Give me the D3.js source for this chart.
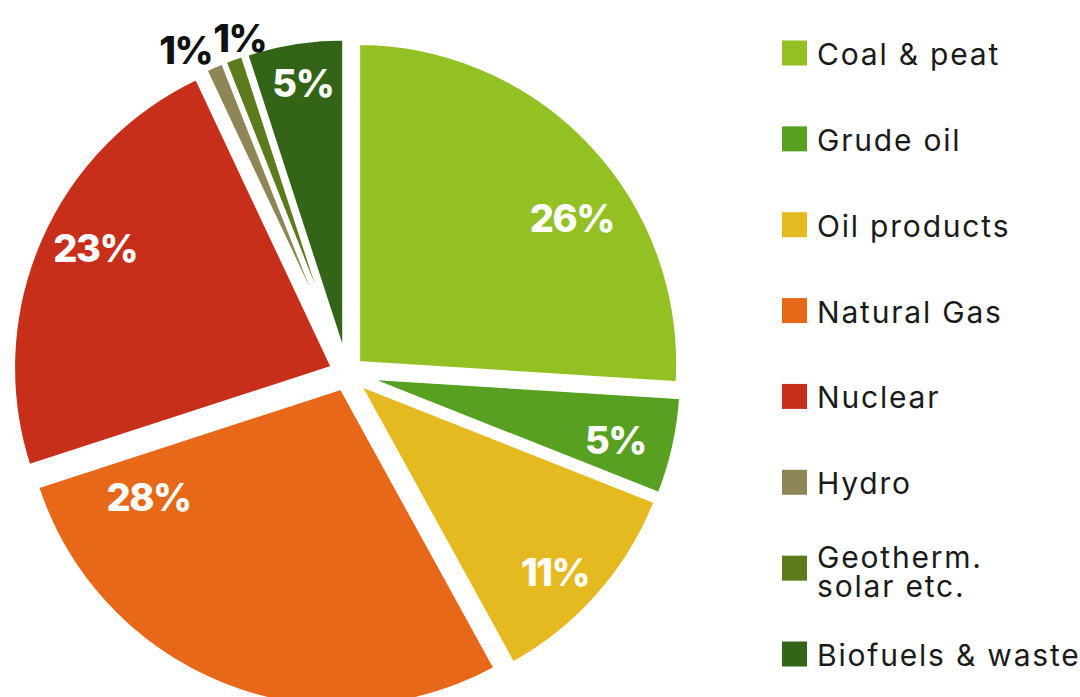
<!DOCTYPE html>
<html>
<head>
<meta charset="utf-8">
<script src="https://cdn.jsdelivr.net/npm/d3@7"></script>
<style>
  html, body { margin: 0; padding: 0; background: #ffffff; }
  svg { display: block; }
</style>
</head>
<body>
<svg id="chart" width="1080" height="697"></svg>
<script>
// ---- data ----
const categories = ["Coal & peat", "Grude oil", "Oil products", "Natural Gas", "Nuclear", "Hydro", "Geotherm.\nsolar etc.", "Biofuels & waste"];
const shares = [26, 5, 11, 28, 23, 1, 1, 5];
const labels = ["26%", "5%", "11%", "28%", "23%", "1%", "1%", "5%"];
const colors = ["#93c123", "#57a022", "#e5b920", "#e76818", "#c72f1a", "#8e8657", "#5b7b1c", "#346417"];

// ---- layout (label placement within each slice: fraction of slice angle, radius) ----
const labelFrac = [0.596, 0.58, 0.56, 0.885, 0.54, -0.4, 1.1, 0.52];
const labelRad  = [259, 262, 273, 222, 267, 347, 338, 279];
const labelFill = ["#fff", "#fff", "#fff", "#fff", "#fff", "#111", "#111", "#fff"];

const cx = 347, cy = 373.5, R = 321, explode = 14.6, gap = 5;
const fontStack = "Inter, 'Noto Sans', 'DejaVu Sans', sans-serif";

const svg = d3.select("#chart");
const pie = d3.pie().sort(null).value(d => d)(shares);
const arc = d3.arc().innerRadius(0).outerRadius(R);

const g = svg.append("g").attr("transform", `translate(${cx},${cy})`);

function offset(d) {
  const a = (d.startAngle + d.endAngle) / 2;
  return [Math.sin(a) * explode, -Math.cos(a) * explode];
}

const slices = g.append("g").selectAll("g").data(pie).join("g")
  .attr("transform", d => { const o = offset(d); return `translate(${o[0]},${o[1]})`; });

slices.append("path").attr("d", arc).attr("fill", (d, i) => colors[i]);

g.append("g").selectAll("path").data(pie).join("path")
  .attr("transform", d => { const o = offset(d); return `translate(${o[0]},${o[1]})`; })
  .attr("d", arc).attr("fill", "none").attr("stroke", "#fff")
  .attr("stroke-width", gap).attr("stroke-linejoin", "round");

g.append("g").selectAll("text").data(pie).join("text")
  .attr("x", (d, i) => {
    const o = offset(d);
    const a = d.startAngle + (d.endAngle - d.startAngle) * labelFrac[i];
    return o[0] + Math.sin(a) * labelRad[i];
  })
  .attr("y", (d, i) => {
    const o = offset(d);
    const a = d.startAngle + (d.endAngle - d.startAngle) * labelFrac[i];
    return o[1] - Math.cos(a) * labelRad[i];
  })
  .attr("text-anchor", "middle")
  .attr("dominant-baseline", "central")
  .attr("font-family", fontStack)
  .attr("font-weight", 800)
  .attr("font-size", 38)
  .attr("letter-spacing", -1.5)
  .attr("fill", (d, i) => labelFill[i])
  .text((d, i) => labels[i]);

// ---- legend ----
const legendY = d3.scalePoint().domain(d3.range(categories.length)).range([53, 654]);
const leg = svg.append("g").selectAll("g").data(categories).join("g")
  .attr("transform", (d, i) => `translate(782,${legendY(i)})`);

leg.append("rect").attr("x", 0).attr("y", -12.5).attr("width", 25).attr("height", 25)
  .attr("fill", (d, i) => colors[i]);

leg.append("text")
  .attr("x", 35)
  .attr("font-family", fontStack)
  .attr("font-size", 30)
  .attr("letter-spacing", 1.8)
  .attr("fill", "#1a1a1a")
  .each(function(d) {
    const lines = d.split("\n");
    const t = d3.select(this);
    lines.forEach((ln, k) => {
      t.append("tspan").attr("x", 35)
        .attr("y", (k - (lines.length - 1) / 2) * 29 + (lines.length > 1 ? 3 : 1))
        .attr("dominant-baseline", "central")
        .text(ln);
    });
  });
</script>
</body>
</html>
